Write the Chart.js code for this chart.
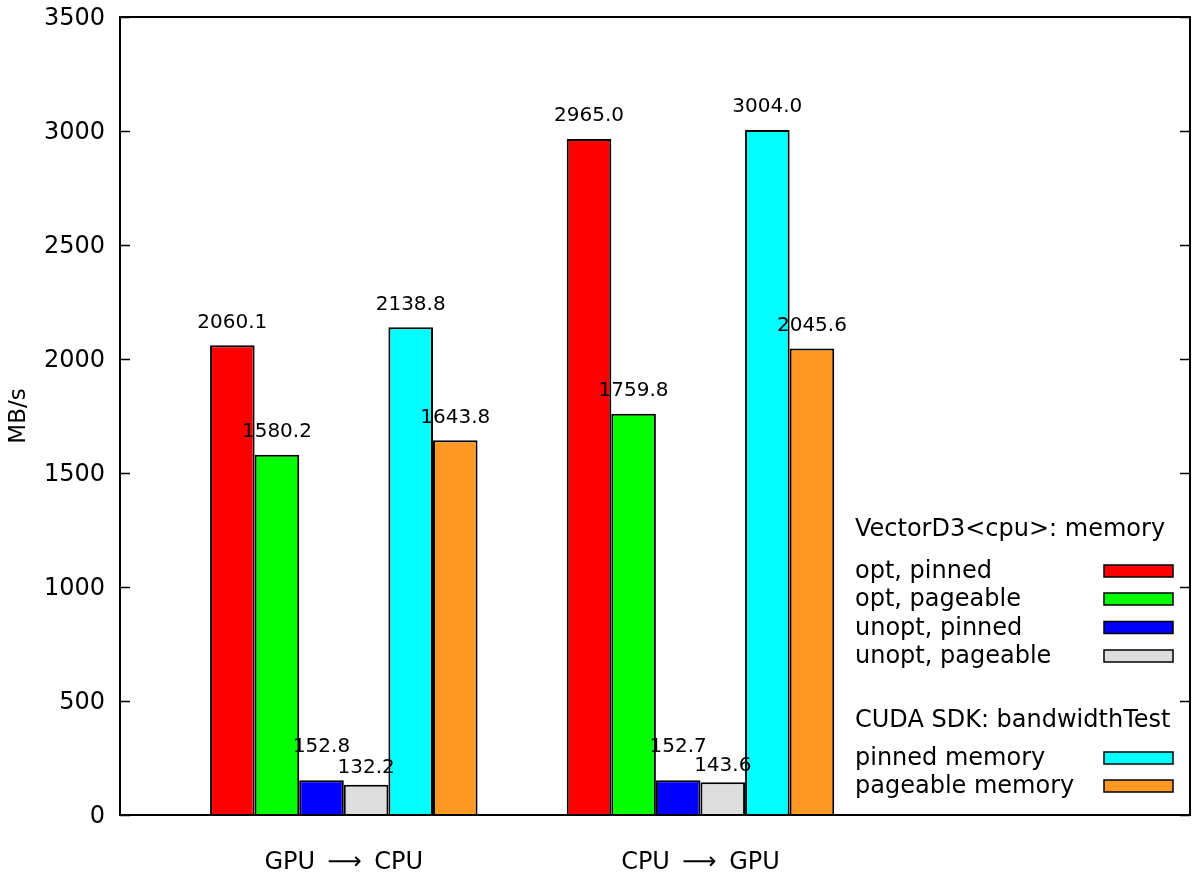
<!DOCTYPE html>
<html lang="en">
<head>
  <meta charset="UTF-8">
  <title>VectorD3 memory transfer bandwidth</title>
  <style>
    html, body { margin: 0; padding: 0; background: #fff; }
    .chart-container { width: 1192px; height: 873px; }
  </style>
</head>
<body>
  <div class="chart-container">
    <canvas id="bwChart" width="1192" height="873"></canvas>
  </div>

  <script src="https://cdn.jsdelivr.net/npm/chart.js@4.4.0/dist/chart.umd.min.js"></script>
  <script>
    // Transfer directions (x categories)
    const categories = ['GPU \u2009\u27F6\u2009 CPU', 'CPU \u2009\u27F6\u2009 GPU'];

    // MB/s per series, one value per direction
    const optPinned = [2060.1, 2965.0];
    const optPageable = [1580.2, 1759.8];
    const unoptPinned = [152.8, 152.7];
    const unoptPageable = [132.2, 143.6];
    const sdkPinned = [2138.8, 3004.0];
    const sdkPageable = [1643.8, 2045.6];

    const seriesNames = ['opt, pinned', 'opt, pageable', 'unopt, pinned', 'unopt, pageable',
                         'pinned memory', 'pageable memory'];
    const legendTitles = ['VectorD3<cpu>: memory', 'CUDA SDK: bandwidthTest'];
    const yTicks = [0, 500, 1000, 1500, 2000, 2500, 3000, 3500];

    const FONT = 'DejaVu Sans';

    function toPoints(arr) {
      return arr.map((v, i) => ({ x: i, y: v }));
    }

    // colour, legend group, how far above the bar the value label sits (in MB/s)
    const styles = [
      { color: '#ff0000', group: 0, lift: 100 },
      { color: '#00ff00', group: 0, lift: 100 },
      { color: '#0000ff', group: 0, lift: 145 },
      { color: '#dddddd', group: 0, lift: 74 },
      { color: '#00ffff', group: 1, lift: 100 },
      { color: '#ff9922', group: 1, lift: 100 }
    ];
    const values = [optPinned, optPageable, unoptPinned, unoptPageable, sdkPinned, sdkPageable];

    const datasets = values.map((arr, i) => ({
      label: seriesNames[i],
      data: toPoints(arr),
      backgroundColor: styles[i].color,
      borderColor: '#000',
      borderWidth: 2,
      group: styles[i].group,
      lift: styles[i].lift,
      categoryPercentage: 0.75,
      barPercentage: 1.0
    }));

    // frame, inward y ticks on both sides, value labels, gnuplot style key
    const gnuplotBits = {
      id: 'gnuplotBits',
      afterDatasetsDraw(chart) {
        const { ctx, chartArea: a, scales: { x, y } } = chart;
        ctx.save();

        // value labels
        ctx.fillStyle = '#000';
        ctx.font = '20px "' + FONT + '"';
        ctx.textAlign = 'center';
        ctx.textBaseline = 'middle';
        chart.data.datasets.forEach((ds, di) => {
          const meta = chart.getDatasetMeta(di);
          meta.data.forEach((bar, i) => {
            const v = ds.data[i].y;
            ctx.fillText(v.toFixed(1), bar.x, y.getPixelForValue(v + ds.lift));
          });
        });

        // frame
        ctx.strokeStyle = '#000';
        ctx.lineWidth = 2;
        ctx.strokeRect(a.left, a.top, a.right - a.left, a.bottom - a.top);

        // inward tick marks
        ctx.lineWidth = 1.5;
        yTicks.forEach(t => {
          const py = Math.round(y.getPixelForValue(t)) + 0.5;
          ctx.beginPath();
          ctx.moveTo(a.left, py); ctx.lineTo(a.left + 10, py);
          ctx.moveTo(a.right, py); ctx.lineTo(a.right - 10, py);
          ctx.stroke();
        });

        // key
        const textX = 855, swX = 1104, swW = 69, swH = 12;
        const rowY = [571, 599, 627.5, 656, 758, 786];
        const headY = [530, 721];
        ctx.font = '24px "' + FONT + '"';
        ctx.textAlign = 'left';
        legendTitles.forEach((t, i) => ctx.fillText(t, textX, headY[i]));
        chart.data.datasets.forEach((ds, i) => {
          ctx.fillStyle = '#000';
          ctx.fillText(ds.label, textX, rowY[i] + 1);
          ctx.fillStyle = ds.backgroundColor;
          ctx.fillRect(swX, rowY[i] - swH / 2, swW, swH);
          ctx.lineWidth = 1.5;
          ctx.strokeRect(swX, rowY[i] - swH / 2, swW, swH);
        });
        ctx.restore();
      }
    };

    const ctx = document.getElementById('bwChart').getContext('2d');
    new Chart(ctx, {
      type: 'bar',
      data: { datasets: datasets },
      plugins: [gnuplotBits],
      options: {
        responsive: false,
        animation: false,
        layout: { padding: { top: 17, right: 2, left: 0, bottom: 0 } },
        scales: {
          x: {
            type: 'linear',
            offset: false,
            min: -0.6275,
            max: 2.3725,
            grid: { display: false, drawTicks: false, offset: false },
            border: { display: false },
            afterBuildTicks(scale) {
              scale.ticks = categories.map((c, i) => ({ value: i }));
            },
            afterFit(scale) {
              scale.height = 58;
              scale.paddingLeft = 0;
              scale.paddingRight = 0;
            },
            ticks: {
              padding: 33,
              color: '#000',
              font: { family: FONT, size: 24 },
              maxRotation: 0,
              callback: (v) => categories[v] || ''
            }
          },
          y: {
            min: 0,
            max: 3500,
            grid: { display: false, drawTicks: false },
            border: { display: false },
            afterBuildTicks(scale) {
              scale.ticks = yTicks.map(v => ({ value: v }));
            },
            afterFit(scale) {
              scale.width = 120;
              scale.paddingTop = 0;
              scale.paddingBottom = 0;
            },
            ticks: {
              padding: 15,
              labelOffset: 2,
              color: '#000',
              font: { family: FONT, size: 24 },
              callback: (v) => String(v)
            },
            title: {
              display: true,
              text: 'MB/s',
              color: '#000',
              padding: { top: 5, bottom: 0 },
              font: { family: FONT, size: 23 }
            }
          }
        },
        plugins: {
          legend: { display: false },
          tooltip: { enabled: false }
        }
      }
    });
  </script>
</body>
</html>
